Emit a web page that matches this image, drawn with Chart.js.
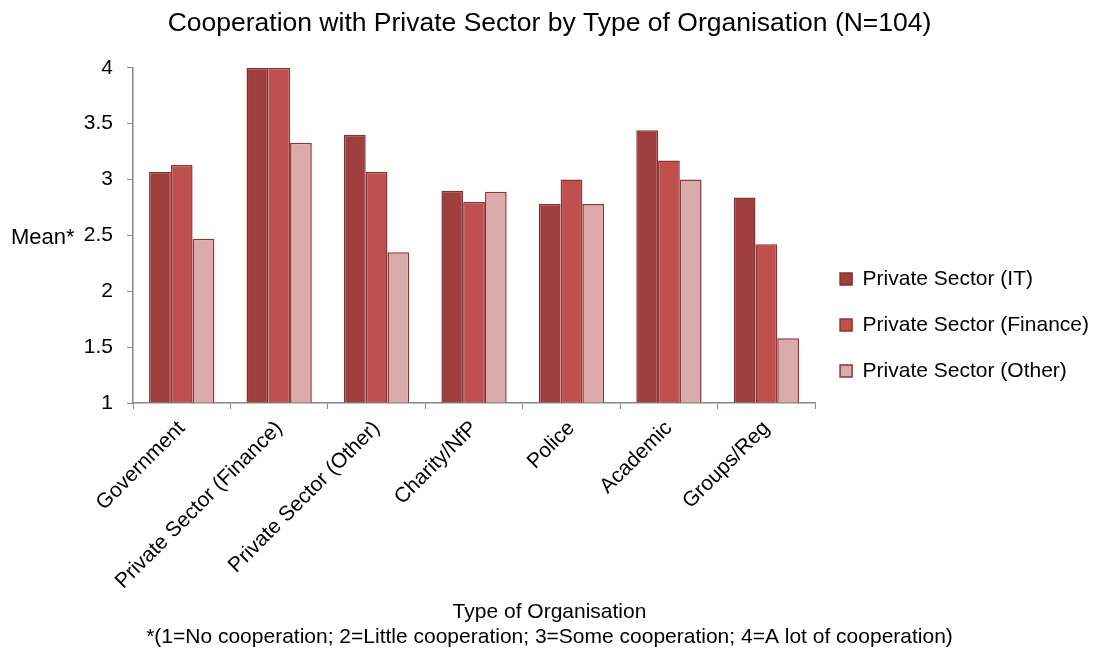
<!DOCTYPE html>
<html>
  <head>
    <title>Cooperation with Private Sector</title>
    <script src="https://cdn.jsdelivr.net/npm/chart.js@4.4.0/dist/chart.umd.min.js"></script>
    <style>
      body { margin: 0; background: #fff; }
    </style>
  </head>
  <body>
    <canvas id="chart" width="1096" height="654"></canvas>

    <script type="text/javascript">

      const organisations = ['Government', 'Private Sector (Finance)', 'Private Sector (Other)', 'Charity/NfP', 'Police', 'Academic', 'Groups/Reg'];
      const sectorIT = [3.07, 4.0, 3.40, 2.90, 2.78, 3.44, 2.84];
      const sectorFinance = [3.13, 4.0, 3.07, 2.80, 3.00, 3.17, 2.42];
      const sectorOther = [2.47, 3.33, 2.35, 2.89, 2.78, 3.00, 1.58];

      const font = 'Liberation Sans, Arial, sans-serif';
      const axisGrey = '#868686';

      // horizontal "Mean*" label left of the y axis
      const meanLabel = {
        id: 'meanLabel',
        afterDraw(chart) {
          const ctx = chart.ctx;
          const area = chart.chartArea;
          ctx.save();
          ctx.font = '22px ' + font;
          ctx.fillStyle = '#000';
          ctx.textAlign = 'left';
          ctx.textBaseline = 'middle';
          ctx.fillText('Mean*', 11, (area.top + area.bottom) / 2 + 3);
          ctx.restore();
        }
      };

      const ctx = document.getElementById('chart').getContext('2d');

      const myChart = new Chart(ctx, {
        type: 'bar',
        data: {
          labels: organisations,
          datasets: [
            { label: 'Private Sector (IT)', data: sectorIT, backgroundColor: '#9e3f3d', borderColor: '#863130', borderWidth: 1.5 },
            { label: 'Private Sector (Finance)', data: sectorFinance, backgroundColor: '#c0504d', borderColor: '#8c3533', borderWidth: 1.5 },
            { label: 'Private Sector (Other)', data: sectorOther, backgroundColor: '#dbabab', borderColor: '#8c3533', borderWidth: 1.5 }
          ]
        },
        plugins: [meanLabel],
        options: {
          responsive: false,
          animation: false,
          layout: { padding: { left: 0, right: -3, top: 0, bottom: 4 } },
          datasets: {
            bar: { categoryPercentage: 0.67, barPercentage: 1.0, base: 1 }
          },
          plugins: {
            title: {
              display: true,
              text: 'Cooperation with Private Sector by Type of Organisation (N=104)',
              color: '#000',
              font: { family: font, size: 26.5, weight: 'normal', lineHeight: 1.2 },
              padding: { top: 8, bottom: 28 }
            },
            subtitle: {
              display: true,
              position: 'bottom',
              text: ['Type of Organisation', '*(1=No cooperation; 2=Little cooperation; 3=Some cooperation; 4=A lot of cooperation)'],
              color: '#000',
              font: { family: font, size: 21, weight: 'normal', lineHeight: 1.19 },
              padding: { top: 0, bottom: 0 }
            },
            legend: {
              position: 'right',
              maxWidth: 300,
              labels: {
                color: '#000',
                font: { family: font, size: 21 },
                boxWidth: 12,
                boxHeight: 12,
                padding: 25
              }
            },
            tooltip: { enabled: false }
          },
          scales: {
            x: {
              grid: { drawOnChartArea: false, drawTicks: true, tickLength: 6, color: axisGrey, offset: true },
              border: { color: axisGrey, width: 1.5 },
              ticks: {
                color: '#000',
                font: { family: font, size: 21 },
                minRotation: 45,
                maxRotation: 45,
                padding: 7,
                autoSkip: false
              },
              afterFit(scale) { scale.height = 197; }
            },
            y: {
              min: 1,
              max: 4,
              grid: { drawOnChartArea: false, drawTicks: true, tickLength: 6, color: axisGrey },
              border: { color: axisGrey, width: 1.5 },
              ticks: {
                stepSize: 0.5,
                color: '#000',
                font: { family: font, size: 21 },
                padding: 14,
                callback: (value) => String(value)
              },
              // leave room for the "Mean*" label on the left
              afterFit(scale) { scale.width = 133; }
            }
          }
        }
      });

    </script>
  </body>
</html>
